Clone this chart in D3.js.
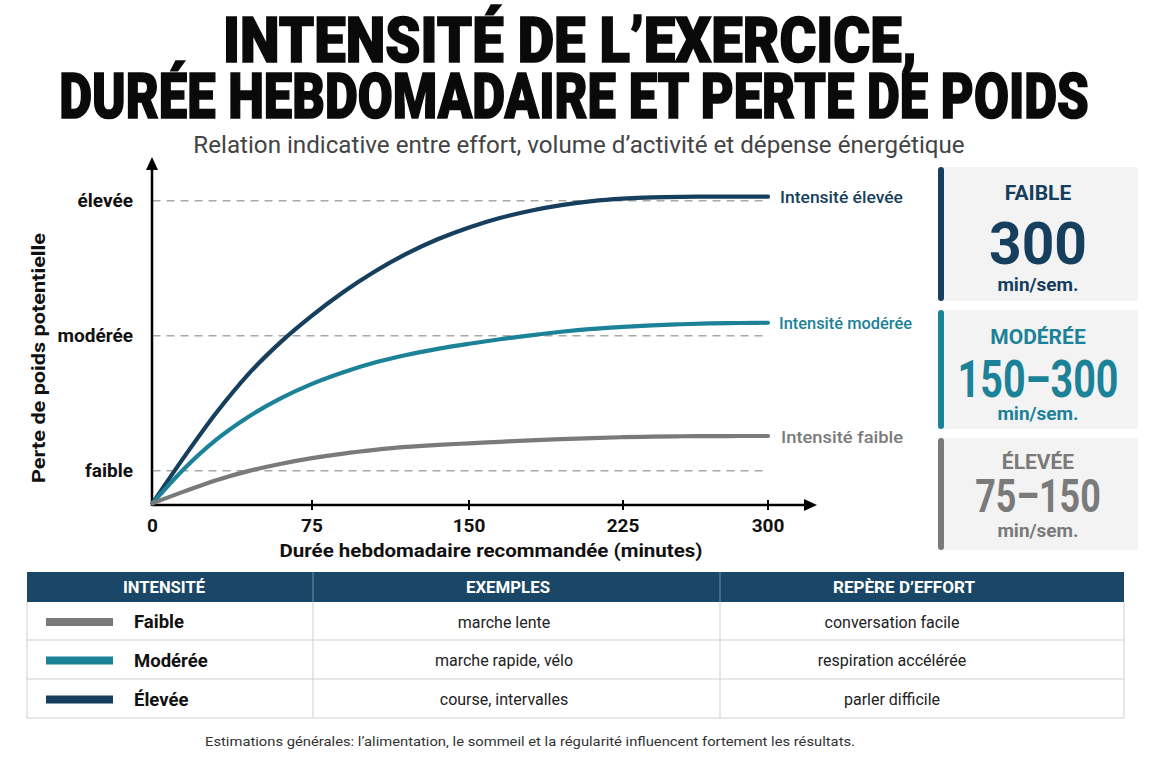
<!DOCTYPE html>
<html>
<head>
<meta charset="utf-8">
<script src="https://cdn.jsdelivr.net/npm/d3@7"></script>
<style>
  html, body { margin: 0; padding: 0; background: #ffffff; }
  svg { display: block; }
  text { font-family: Roboto, "Noto Sans", "DejaVu Sans", sans-serif; }
</style>
</head>
<body>
<svg id="chart" width="1152" height="768"></svg>
<script>
// ---------- DATA ----------
const titleLines = ["INTENSITÉ DE L’EXERCICE,", "DURÉE HEBDOMADAIRE ET PERTE DE POIDS"];
const subtitle = "Relation indicative entre effort, volume d’activité et dépense énergétique";
const minutes = [0, 15, 30, 45, 60, 75, 90, 105, 120, 135, 150, 165, 180, 195, 210, 225, 240, 255, 270, 285, 300];
const eleveeValues  = [0.759, 1.104, 1.429, 1.714, 1.949, 2.149, 2.324, 2.476, 2.606, 2.714, 2.802, 2.872, 2.926, 2.967, 2.997, 3.015, 3.025, 3.029, 3.030, 3.030, 3.030];
const modereeValues = [0.759, 1.016, 1.230, 1.398, 1.534, 1.643, 1.729, 1.801, 1.857, 1.902, 1.940, 1.974, 2.003, 2.029, 2.050, 2.065, 2.077, 2.085, 2.091, 2.094, 2.096];
const faibleValues  = [0.759, 0.847, 0.930, 0.997, 1.050, 1.093, 1.127, 1.154, 1.176, 1.191, 1.203, 1.214, 1.225, 1.234, 1.242, 1.248, 1.252, 1.255, 1.256, 1.257, 1.257];
const seriesNames = ["Intensité élevée", "Intensité modérée", "Intensité faible"];
const xTicks = [0, 75, 150, 225, 300];
const yLevels = [1, 2, 3];
const yLevelLabels = ["faible", "modérée", "élevée"];
const xTitle = "Durée hebdomadaire recommandée (minutes)";
const yTitle = "Perte de poids potentielle";
const cardLabels = ["FAIBLE", "MODÉRÉE", "ÉLEVÉE"];
const cardValues = ["300", "150–300", "75–150"];
const cardUnit = "min/sem.";
const tableHeaders = ["INTENSITÉ", "EXEMPLES", "REPÈRE D’EFFORT"];
const tableIntensities = ["Faible", "Modérée", "Élevée"];
const tableExamples = ["marche lente", "marche rapide, vélo", "course, intervalles"];
const tableEffort = ["conversation facile", "respiration accélérée", "parler difficile"];
const footnote = "Estimations générales: l’alimentation, le sommeil et la régularité influencent fortement les résultats.";

// ---------- STYLE ----------
const NAVY = "#153f5c", TEAL = "#1c8297", GRAY = "#7a7a7a", HEAD = "#1a4767";

const svg = d3.select("#chart");

// helper: text scaled horizontally to a target width
function fitText(sel, cx, cy, target) {
  const w = sel.node().getComputedTextLength();
  const s = target / w;
  sel.attr("transform", `translate(${cx},${cy}) scale(${s},1)`);
  return sel;
}

// Title
const t1 = svg.append("text").attr("text-anchor", "middle")
  .attr("font-size", 63).attr("font-weight", 900).attr("fill", "#0a0a0a")
  .attr("stroke", "#0a0a0a").attr("stroke-width", 1.6).text(titleLines[0]);
fitText(t1, 570, 62, 694);
const t2 = svg.append("text").attr("text-anchor", "middle")
  .attr("font-size", 63).attr("font-weight", 900).attr("fill", "#0a0a0a")
  .attr("stroke", "#0a0a0a").attr("stroke-width", 1.6).text(titleLines[1]);
fitText(t2, 574, 118, 1030);
const st = svg.append("text").attr("text-anchor", "middle")
  .attr("font-size", 23).attr("fill", "#444").text(subtitle);
fitText(st, 579, 153, 772);

// Scales
const x = d3.scaleLinear().domain(xTicks).range([152.5, 312, 469, 623, 768]);
const y = d3.scaleLinear().domain([1, 3]).range([470.7, 200.7]);
const axisY = 505;

const plot = svg.append("g");

// dashed reference lines
plot.selectAll("line.ref").data(yLevels).join("line")
  .attr("class", "ref")
  .attr("x1", x(0)).attr("x2", x(300))
  .attr("y1", d => y(d)).attr("y2", d => y(d))
  .attr("stroke", "#a8a8a8").attr("stroke-width", 1.5).attr("stroke-dasharray", "8,6");

// y level labels
plot.selectAll("text.ylab").data(yLevels).join("text")
  .attr("class", "ylab")
  .attr("x", 133).attr("y", d => y(d)).attr("dy", "0.35em")
  .attr("text-anchor", "end").attr("font-size", 19).attr("font-weight", 700)
  .attr("fill", "#111").text((d, i) => yLevelLabels[i]);

// axes lines with arrows
plot.append("line").attr("x1", 152).attr("x2", 808).attr("y1", axisY).attr("y2", axisY)
  .attr("stroke", "#000").attr("stroke-width", 2.5);
plot.append("path").attr("d", `M817,${axisY} L804,${axisY - 6} L804,${axisY + 6} Z`).attr("fill", "#000");
plot.append("line").attr("x1", 152).attr("x2", 152).attr("y1", axisY + 1).attr("y2", 166)
  .attr("stroke", "#000").attr("stroke-width", 2.5);
plot.append("path").attr("d", `M152,157 L146,170 L158,170 Z`).attr("fill", "#000");

// x ticks
plot.selectAll("line.xt").data(xTicks.slice(1)).join("line")
  .attr("class", "xt")
  .attr("x1", d => x(d)).attr("x2", d => x(d))
  .attr("y1", axisY - 5).attr("y2", axisY + 5)
  .attr("stroke", "#000").attr("stroke-width", 2);
plot.selectAll("text.xl").data(xTicks).join("text")
  .attr("class", "xl")
  .attr("x", d => x(d)).attr("y", 525).attr("dy", "0.35em")
  .attr("text-anchor", "middle").attr("font-size", 19).attr("font-weight", 700)
  .attr("fill", "#111").text(d => d);

// axis titles
plot.append("text").attr("x", 491).attr("y", 551).attr("dy", "0.35em")
  .attr("text-anchor", "middle").attr("font-size", 18.5).attr("font-weight", 700)
  .attr("fill", "#111").attr("textLength", 423).attr("lengthAdjust", "spacingAndGlyphs").text(xTitle);
plot.append("text").attr("transform", "translate(38,358) rotate(-90)").attr("dy", "0.35em")
  .attr("text-anchor", "middle").attr("font-size", 19).attr("font-weight", 700)
  .attr("fill", "#111").attr("textLength", 250).attr("lengthAdjust", "spacingAndGlyphs").text(yTitle);

// curves
const series = [
  { name: seriesNames[0], values: eleveeValues, color: NAVY, dx: 780, len: 123 },
  { name: seriesNames[1], values: modereeValues, color: TEAL, dx: 779, len: 133 },
  { name: seriesNames[2], values: faibleValues, color: GRAY, dx: 781, len: 122 }
];
const line = d3.line().x((d, i) => x(minutes[i])).y(d => y(d)).curve(d3.curveMonotoneX);
plot.selectAll("path.curve").data(series).join("path")
  .attr("class", "curve")
  .attr("d", s => line(s.values))
  .attr("fill", "none").attr("stroke", s => s.color).attr("stroke-width", 4.2)
  .attr("stroke-linecap", "round");
plot.selectAll("text.clab").data(series).join("text")
  .attr("class", "clab")
  .attr("x", s => s.dx).attr("y", s => y(s.values[s.values.length - 1]) + 1).attr("dy", "0.35em")
  .attr("font-size", 16).attr("font-weight", 500).attr("fill", s => s.color)
  .attr("textLength", s => s.len).attr("lengthAdjust", "spacingAndGlyphs")
  .text(s => s.name);

// cards
const cardColors = [NAVY, TEAL, GRAY];
const cards = [
  { top: 167, bottom: 301, label: 193, value: 242, unit: 284, vSize: 60, sx: 0.95 },
  { top: 310, bottom: 429, label: 337, value: 378, unit: 413, vSize: 52, sx: 0.76 },
  { top: 438, bottom: 550, label: 462, value: 495, unit: 530, vSize: 46, sx: 0.78 }
];
const cg = svg.append("g");
cards.forEach((c, i) => {
  cg.append("rect").attr("x", 938).attr("y", c.top).attr("width", 200).attr("height", c.bottom - c.top)
    .attr("fill", "#f3f3f3").attr("rx", 3);
  cg.append("rect").attr("x", 938).attr("y", c.top).attr("width", 6).attr("height", c.bottom - c.top)
    .attr("fill", cardColors[i]).attr("rx", 3);
  cg.append("text").attr("x", 1038).attr("y", c.label).attr("dy", "0.35em").attr("text-anchor", "middle")
    .attr("font-size", 21).attr("font-weight", 700).attr("fill", cardColors[i]).text(cardLabels[i]);
  cg.append("text").attr("transform", `translate(1038,${c.value}) scale(${c.sx},1)`)
    .attr("dy", "0.36em").attr("text-anchor", "middle")
    .attr("font-size", c.vSize).attr("font-weight", 700).attr("fill", cardColors[i])
    .text(cardValues[i]);
  cg.append("text").attr("x", 1038).attr("y", c.unit).attr("dy", "0.35em").attr("text-anchor", "middle")
    .attr("font-size", 19).attr("font-weight", 700).attr("fill", cardColors[i]).text(cardUnit);
});

// table
const tg = svg.append("g");
const tL = 27, tR = 1124, hTop = 572, hBot = 602;
const rowEdges = [602, 640, 679, 718];
const colEdges = [313, 720];
tg.append("rect").attr("x", tL).attr("y", hTop).attr("width", tR - tL).attr("height", hBot - hTop).attr("fill", HEAD);
colEdges.forEach(cx => {
  tg.append("line").attr("x1", cx).attr("x2", cx).attr("y1", hTop).attr("y2", hBot)
    .attr("stroke", "#6f8ea5").attr("stroke-width", 1);
  tg.append("line").attr("x1", cx).attr("x2", cx).attr("y1", hBot).attr("y2", rowEdges[3])
    .attr("stroke", "#cfcfcf").attr("stroke-width", 1);
});
rowEdges.slice(1).forEach(ry => {
  tg.append("line").attr("x1", tL).attr("x2", tR).attr("y1", ry).attr("y2", ry)
    .attr("stroke", "#cfcfcf").attr("stroke-width", 1.2);
});
tg.append("line").attr("x1", tL).attr("x2", tL).attr("y1", hBot).attr("y2", rowEdges[3]).attr("stroke", "#cfcfcf");
tg.append("line").attr("x1", tR).attr("x2", tR).attr("y1", hBot).attr("y2", rowEdges[3]).attr("stroke", "#cfcfcf");
const headX = [164, 508, 904];
const headLen = [82, 84, 142];
tableHeaders.forEach((h, i) => {
  tg.append("text").attr("x", headX[i]).attr("y", 587).attr("dy", "0.35em").attr("text-anchor", "middle")
    .attr("font-size", 16).attr("font-weight", 700).attr("fill", "#fff")
    .attr("textLength", headLen[i]).attr("lengthAdjust", "spacingAndGlyphs").text(h);
});
tableIntensities.forEach((t, i) => {
  const cy = (rowEdges[i] + rowEdges[i + 1]) / 2 + 1;
  tg.append("rect").attr("x", 46).attr("y", cy - 4).attr("width", 67).attr("height", 8).attr("fill", [GRAY, TEAL, NAVY][i]);
  tg.append("text").attr("x", 134).attr("y", cy).attr("dy", "0.35em")
    .attr("font-size", 18.5).attr("font-weight", 700).attr("fill", "#111").text(t);
  tg.append("text").attr("x", 504).attr("y", cy).attr("dy", "0.35em").attr("text-anchor", "middle")
    .attr("font-size", 16).attr("fill", "#222").text(tableExamples[i]);
  tg.append("text").attr("x", 892).attr("y", cy).attr("dy", "0.35em").attr("text-anchor", "middle")
    .attr("font-size", 16).attr("fill", "#222").text(tableEffort[i]);
});

svg.append("text").attr("x", 530).attr("y", 741).attr("dy", "0.35em").attr("text-anchor", "middle")
  .attr("font-size", 13.5).attr("fill", "#333").attr("textLength", 650).attr("lengthAdjust", "spacingAndGlyphs")
  .text(footnote);
</script>
</body>
</html>
